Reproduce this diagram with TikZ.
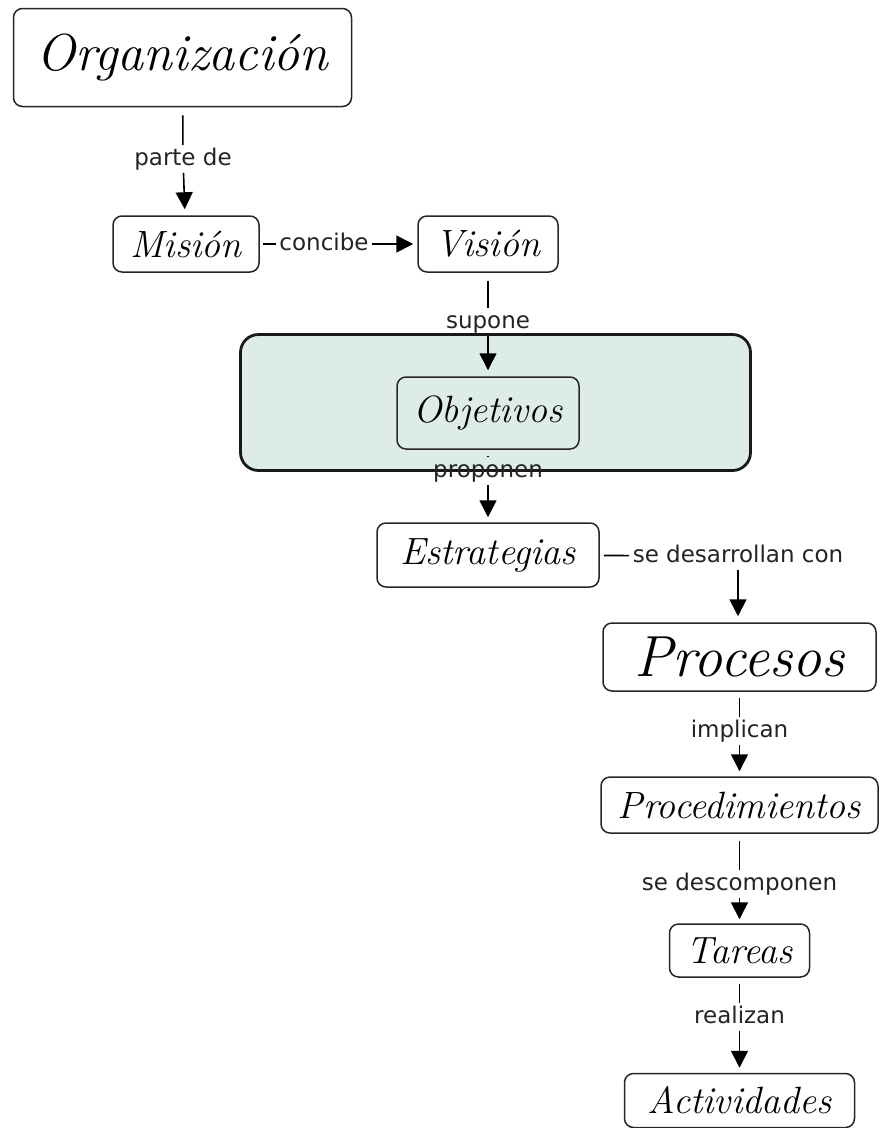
\documentclass[tikz,border=0pt]{standalone}
\usepackage{fontspec}
\newfontfamily\linkfont{DejaVu Sans}
\usetikzlibrary{arrows.meta}

\definecolor{groupgreen}{RGB}{221,237,230}
\definecolor{linkgray}{RGB}{35,35,35}

\tikzset{
  concept/.style={draw=black!85, rounded corners=9pt, line width=1.5pt, inner sep=0pt,
    font=\itshape\fontsize{38}{40}\selectfont},
  linkword/.style={inner sep=3pt, text=linkgray, text height=16pt, text depth=4pt,
    font=\linkfont\fontsize{23}{25}\selectfont},
}

\begin{document}
\begin{tikzpicture}[x=1pt, y=-1pt, >={Triangle[width=17pt,length=17pt]}, line width=1.6pt]
    \useasboundingbox (0,0) rectangle (879,1128);

    % Group box
    \node[draw=black!90, line width=2.8pt, rounded corners=18pt, fill=groupgreen,
      minimum width=510pt, minimum height=136pt] (grupo) at (495.5,402.5) {};

    % Concepts
    \node[concept, minimum width=338pt, minimum height=98pt,
      font=\itshape\fontsize{52}{54}\selectfont] (org) at (182.5,57.5) {Organización};
    \node[concept, minimum width=146pt, minimum height=56pt] (mision) at (186,244) {Misión};
    \node[concept, minimum width=140pt, minimum height=56pt] (vision) at (488,244) {Visión};
    \node[concept, fill=groupgreen, minimum width=182pt, minimum height=72pt] (objetivos) at (488,413) {Objetivos};
    \node[concept, minimum width=222pt, minimum height=64pt] (estrategias) at (488,555) {Estrategias};
    \node[concept, minimum width=273pt, minimum height=68pt,
      font=\itshape\fontsize{58}{60}\selectfont] (procesos) at (739.5,657) {Procesos};
    \node[concept, minimum width=277pt, minimum height=56pt] (procedimientos) at (739.5,805) {Procedimientos};
    \node[concept, minimum width=140pt, minimum height=53pt] (tareas) at (739.5,950.5) {Tareas};
    \node[concept, minimum width=230pt, minimum height=54pt] (actividades) at (739.5,1100.5) {Actividades};

    % Linking phrases
    \node[linkword] (partede) at (183,159) {parte de};
    \node[linkword] (concibe) at (324,244) {concibe};
    \node[linkword] (supone) at (488,322) {supone};
    \node[linkword] (proponen) at (488,471) {proponen};
    \node[linkword] (desarrollan) at (738,556) {se desarrollan con};
    \node[linkword] (implican) at (739.5,731) {implican};
    \node[linkword] (descomponen) at (739.5,884) {se descomponen};
    \node[linkword] (realizan) at (739.5,1017) {realizan};

    % Connectors
    \draw[shorten <=8pt] (org) -- (partede);
    \draw[->, shorten >=6pt] (partede) -- (mision);
    \draw[shorten <=3pt] (mision) -- (concibe);
    \draw[->, shorten >=4pt] (concibe) -- (vision);
    \draw[shorten <=8pt] (vision) -- (supone);
    \draw[->, shorten >=6pt] (supone) -- (objetivos);
    \draw[shorten <=6pt] (objetivos) -- (proponen);
    \draw[->, shorten >=5pt] (proponen) -- (estrategias);
    \draw[shorten <=4pt] (estrategias) -- (desarrollan);
    \draw[->, shorten >=6pt] (desarrollan.south) -- (desarrollan.south |- procesos.north);
    \draw[shorten <=6pt] (procesos) -- (implican);
    \draw[->, shorten >=5pt] (implican) -- (procedimientos);
    \draw[shorten <=7pt] (procedimientos) -- (descomponen);
    \draw[->, shorten >=4pt] (descomponen) -- (tareas);
    \draw[shorten <=6pt] (tareas) -- (realizan);
    \draw[->, shorten >=5pt] (realizan) -- (actividades);
\end{tikzpicture}
\end{document}
